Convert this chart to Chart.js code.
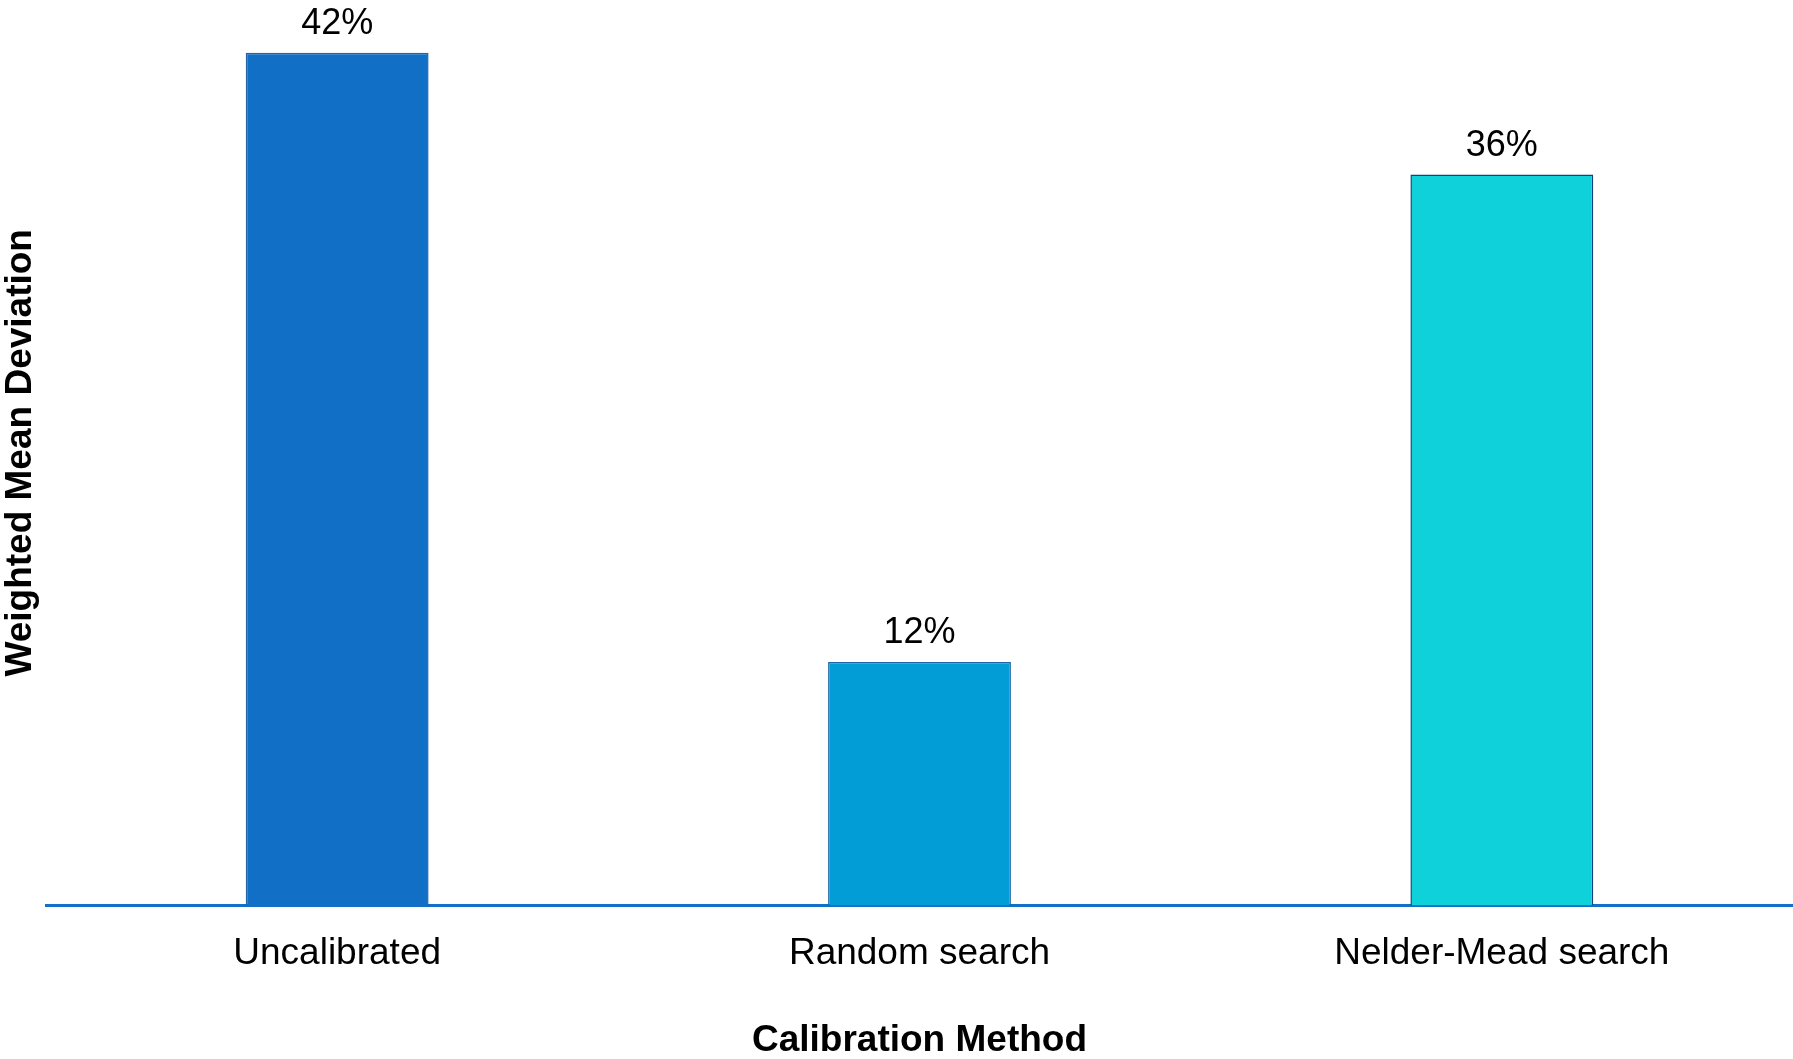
<!DOCTYPE html>
<html>
<head>
<meta charset="utf-8">
<title>Weighted Mean Deviation by Calibration Method</title>
<script src="https://cdn.jsdelivr.net/npm/chart.js@4.4.1/dist/chart.umd.min.js"></script>
<style>
    html, body { margin: 0; padding: 0; background: #ffffff; }
    #wrap { width: 1793px; height: 1059px; }
</style>
</head>
<body>
<div id="wrap">
    <canvas id="deviationChart" width="1793" height="1059"></canvas>
</div>
<script>
const methods = ['Uncalibrated', 'Random search', 'Nelder-Mead search'];
const deviation = [42, 12, 36];   // weighted mean deviation, %
const barColors = ['#116fc5', '#029dd6', '#0ed1d9'];
const barBorders = ['#2463a6', '#1e66a8', '#1b3e7c'];

const FONT = '"Liberation Sans", Arial, Helvetica, sans-serif';

// prints "NN%" above every bar
const valueLabels = {
    id: 'valueLabels',
    afterDatasetsDraw(chart) {
        const ctx = chart.ctx;
        const meta = chart.getDatasetMeta(0);
        ctx.save();
        ctx.font = '36px ' + FONT;
        ctx.fillStyle = '#000000';
        ctx.textAlign = 'center';
        ctx.textBaseline = 'alphabetic';
        meta.data.forEach((bar, i) => {
            ctx.fillText(deviation[i] + '%', bar.x, bar.y - 19);
        });
        ctx.restore();
    }
};

new Chart(document.getElementById('deviationChart'), {
    type: 'bar',
    data: {
        labels: methods,
        datasets: [{
            data: deviation,
            backgroundColor: barColors,
            borderColor: barBorders,
            borderWidth: 1.5,
            categoryPercentage: 1,
            barPercentage: 0.314
        }]
    },
    options: {
        responsive: false,
        animation: false,
        devicePixelRatio: 1,
        layout: { padding: 0 },
        plugins: {
            legend: { display: false },
            tooltip: { enabled: false }
        },
        scales: {
            x: {
                z: 1,
                grid: { display: false, drawTicks: false },
                border: { display: true, color: '#1170c8', width: 3 },
                ticks: {
                    color: '#000000',
                    padding: 26,
                    font: { family: FONT, size: 37 }
                },
                title: {
                    display: true,
                    text: 'Calibration Method',
                    color: '#000000',
                    padding: { top: 20, bottom: 0 },
                    font: { family: FONT, size: 37, weight: 'bold', lineHeight: 1 }
                }
            },
            y: {
                min: 0,
                max: 44.6,
                grid: { display: false, drawTicks: false },
                border: { display: false },
                ticks: { display: false },
                title: {
                    display: true,
                    text: 'Weighted Mean Deviation',
                    color: '#000000',
                    padding: { top: 2, bottom: 7 },
                    font: { family: FONT, size: 37, weight: 'bold', lineHeight: 1 }
                }
            }
        }
    },
    plugins: [valueLabels]
});
</script>
</body>
</html>
